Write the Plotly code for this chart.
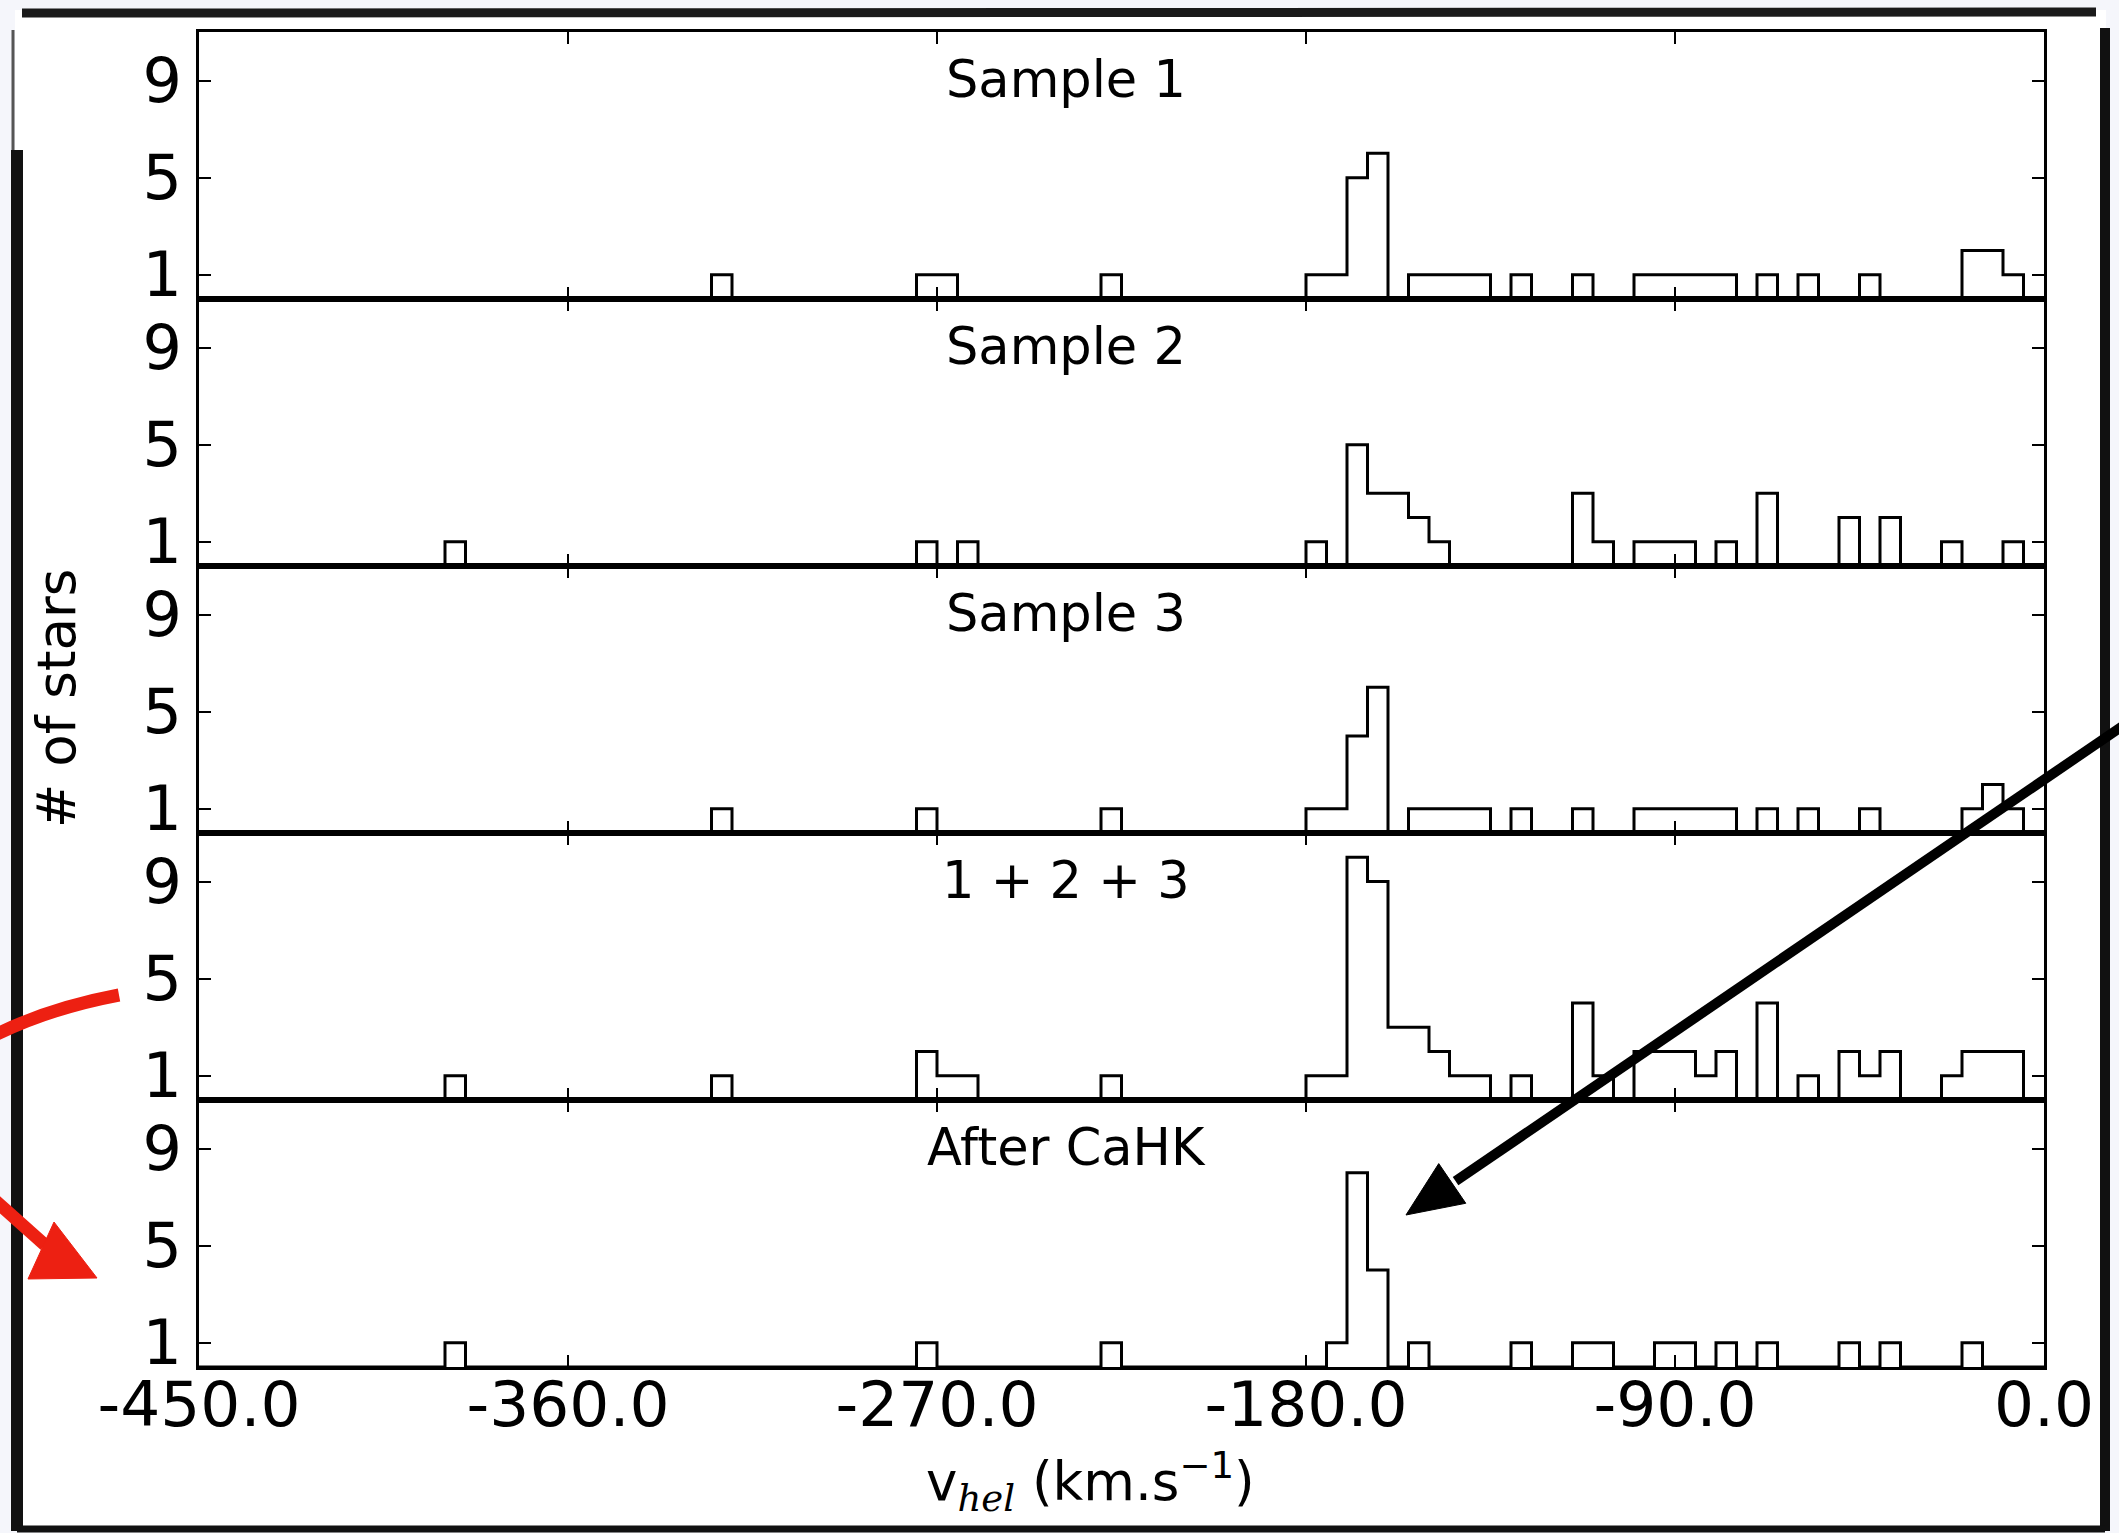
import plotly.graph_objects as go

# Canvas size in pixels
W, H = 2119, 1533

# Histogram binning (km/s)
BIN_WIDTH = 5
V_MIN, V_MAX = -450, 0

panel_titles = ["Sample 1", "Sample 2", "Sample 3", "1 + 2 + 3", "After CaHK"]

# Non-empty bins of each histogram: left bin edge (km/s) and number of stars
sample1_v = [-325, -275, -270, -230, -180, -175, -170, -165, -155, -150, -145, -140,
             -130, -115, -100, -95, -90, -85, -80, -70, -60, -45, -20, -15, -10]
sample1_n = [1, 1, 1, 1, 1, 1, 5, 6, 1, 1, 1, 1,
             1, 1, 1, 1, 1, 1, 1, 1, 1, 1, 2, 2, 1]

sample2_v = [-390, -275, -265, -180, -170, -165, -160, -155, -150, -115, -110,
             -100, -95, -90, -80, -70, -50, -40, -25, -10]
sample2_n = [1, 1, 1, 1, 5, 3, 3, 2, 1, 3, 1,
             1, 1, 1, 1, 3, 2, 2, 1, 1]

sample3_v = [-325, -275, -230, -180, -175, -170, -165, -155, -150, -145, -140,
             -130, -115, -100, -95, -90, -85, -80, -70, -60, -45, -20, -15, -10]
sample3_n = [1, 1, 1, 1, 1, 4, 6, 1, 1, 1, 1,
             1, 1, 1, 1, 1, 1, 1, 1, 1, 1, 1, 2, 1]

combined_v = [-390, -325, -275, -270, -265, -230, -180, -175, -170, -165, -160, -155,
              -150, -145, -140, -130, -115, -110, -100, -95, -90, -85, -80, -70,
              -60, -50, -45, -40, -25, -20, -15, -10]
combined_n = [1, 1, 2, 1, 1, 1, 1, 1, 10, 9, 3, 3,
              2, 1, 1, 1, 4, 1, 2, 2, 2, 1, 2, 4,
              1, 2, 1, 2, 1, 2, 2, 2]

cahk_v = [-390, -275, -230, -175, -170, -165, -155, -130, -115, -110, -95, -90,
          -80, -70, -50, -40, -20]
cahk_n = [1, 1, 1, 1, 8, 4, 1, 1, 1, 1, 1, 1,
          1, 1, 1, 1, 1]

x_tickvals = [-450, -360, -270, -180, -90, 0]
x_ticktext = ["-450.0", "-360.0", "-270.0", "-180.0", "-90.0", "0.0"]
y_tickvals = [1, 5, 9]
y_range = [0, 11]

panels = [
    (sample1_v, sample1_n),
    (sample2_v, sample2_n),
    (sample3_v, sample3_n),
    (combined_v, combined_n),
    (cahk_v, cahk_n),
]

FONT = "DejaVu Sans"


def step_outline(bin_left, counts):
    """Outline of a step histogram (like histtype='step') on the full bin grid."""
    edges = list(range(V_MIN, V_MAX + BIN_WIDTH, BIN_WIDTH))
    full = [0] * (len(edges) - 1)
    for v, n in zip(bin_left, counts):
        full[(v - V_MIN) // BIN_WIDTH] = n
    xs = [edges[0]] + edges[:-1] + [edges[-1]]
    ys = [0] + full + [0]
    return xs, ys


def px(x):
    return x / W


def py(y):
    return 1 - y / H


# Axes box in pixels
AX_LEFT, AX_RIGHT = 199, 2044
AX_TOP, PANEL_H = 32, 267

fig = go.Figure()
layout = dict(
    width=W, height=H,
    margin=dict(l=0, r=0, t=0, b=0),
    paper_bgcolor="#f5f6fb",
    plot_bgcolor="white",
    showlegend=False,
    template="none",
    font=dict(family=FONT, color="black"),
    annotations=[],
    shapes=[],
)

n_panels = len(panels)
for k, (v, n) in enumerate(panels):
    sfx = "" if k == 0 else str(k + 1)
    xs, ys = step_outline(v, n)
    fig.add_trace(go.Scatter(
        x=xs, y=ys, mode="lines", line=dict(color="black", width=3, shape="hv"),
        xaxis="x" + sfx, yaxis="y" + sfx, hoverinfo="skip",
    ))
    top = AX_TOP + PANEL_H * k
    bot = top + PANEL_H
    last = k == n_panels - 1
    layout["xaxis" + sfx] = dict(
        domain=[px(AX_LEFT), px(AX_RIGHT)], anchor="y" + sfx,
        range=[V_MIN, V_MAX], tickmode="array", tickvals=x_tickvals,
        ticktext=x_ticktext, showticklabels=last,
        ticks="inside", ticklen=12, tickwidth=1.5, tickcolor="black",
        mirror="allticks", showline=True, linecolor="black", linewidth=2.5,
        showgrid=False, zeroline=False, automargin=False,
        tickfont=dict(family=FONT, size=63, color="black"),
        ticklabelstandoff=-19,
    )
    layout["yaxis" + sfx] = dict(
        domain=[py(bot), py(top)], anchor="x" + sfx,
        range=y_range, tickmode="array", tickvals=y_tickvals,
        ticks="inside", ticklen=12, tickwidth=1.5, tickcolor="black",
        mirror="allticks", showline=True, linecolor="black", linewidth=2.5,
        showgrid=False, zeroline=False, automargin=False,
        tickfont=dict(family=FONT, size=62, color="black"),
        ticklabelstandoff=2,
    )
    layout["annotations"].append(dict(
        text=panel_titles[k], xref="x" + sfx + " domain", yref="y" + sfx,
        x=0.47, y=9.05, xanchor="center", yanchor="middle", showarrow=False,
        font=dict(family=FONT, size=51, color="black"),
    ))

# Axis titles
layout["annotations"].append(dict(
    text="# of stars", xref="paper", yref="paper", x=px(57), y=py(699),
    textangle=-90, showarrow=False, xanchor="center", yanchor="middle",
    font=dict(family=FONT, size=53, color="black"),
))
layout["annotations"].append(dict(
    text="v<sub><i><span style=\"font-family:'DejaVu Serif'\">hel</span></i></sub> (km.s<sup>\u22121</sup>)",
    xref="paper", yref="paper",
    x=px(1090), y=py(1482), showarrow=False, xanchor="center", yanchor="middle",
    font=dict(family=FONT, size=53, color="black"),
))

shapes = layout["shapes"]

# White card inside the dark border
shapes.append(dict(type="rect", xref="paper", yref="paper", layer="below",
                   x0=px(15), x1=px(2106), y0=py(1531), y1=py(10),
                   fillcolor="white", line=dict(width=0)))


def seg(x0, y0, x1, y1, width, color="black"):
    return dict(type="line", xref="paper", yref="paper", layer="above",
                x0=px(x0), y0=py(y0), x1=px(x1), y1=py(y1),
                line=dict(color=color, width=width))


def poly(points, color):
    path = "M " + " L ".join(f"{px(a):.5f},{py(b):.5f}" for a, b in points) + " Z"
    return dict(type="path", xref="paper", yref="paper", layer="above", path=path,
                fillcolor=color, line=dict(color=color, width=1))


# Dark border around the figure
shapes.append(seg(22, 13, 2096, 12, 9, "#1a1a1a"))
shapes.append(seg(13, 30, 13, 150, 3, "#555555"))
shapes.append(seg(17, 150, 17, 1531, 12, "#111111"))
shapes.append(seg(2105, 28, 2105, 1531, 10, "#111111"))
shapes.append(seg(17, 1529, 2105, 1529, 7, "#111111"))

# Black arrow pointing at the CaHK peak
tip = (1406, 1215)
tail = (2130, 721)
dx, dy = tail[0] - tip[0], tail[1] - tip[1]
L = (dx * dx + dy * dy) ** 0.5
ux, uy = dx / L, dy / L
head_len, head_half = 56, 24
bx, by = tip[0] + head_len * ux, tip[1] + head_len * uy
shapes.append(seg(tail[0], tail[1], bx + 4 * ux, by + 4 * uy, 10))
shapes.append(poly([tip, (bx - head_half * uy, by + head_half * ux),
                    (bx + head_half * uy, by - head_half * ux)], "black"))

# Red strokes on the left margin
RED = "#ed2012"
shapes.append(dict(type="path", xref="paper", yref="paper", layer="above",
                   path=f"M {px(-5)},{py(1035)} Q {px(50)},{py(1008)} {px(119)},{py(995)}",
                   line=dict(color=RED, width=13)))
shapes.append(seg(-10, 1196, 45, 1245, 13, RED))
shapes.append(poly([(97, 1278), (54, 1222), (28, 1279)], RED))

fig.update_layout(**layout)
fig.write_html("out.html")
